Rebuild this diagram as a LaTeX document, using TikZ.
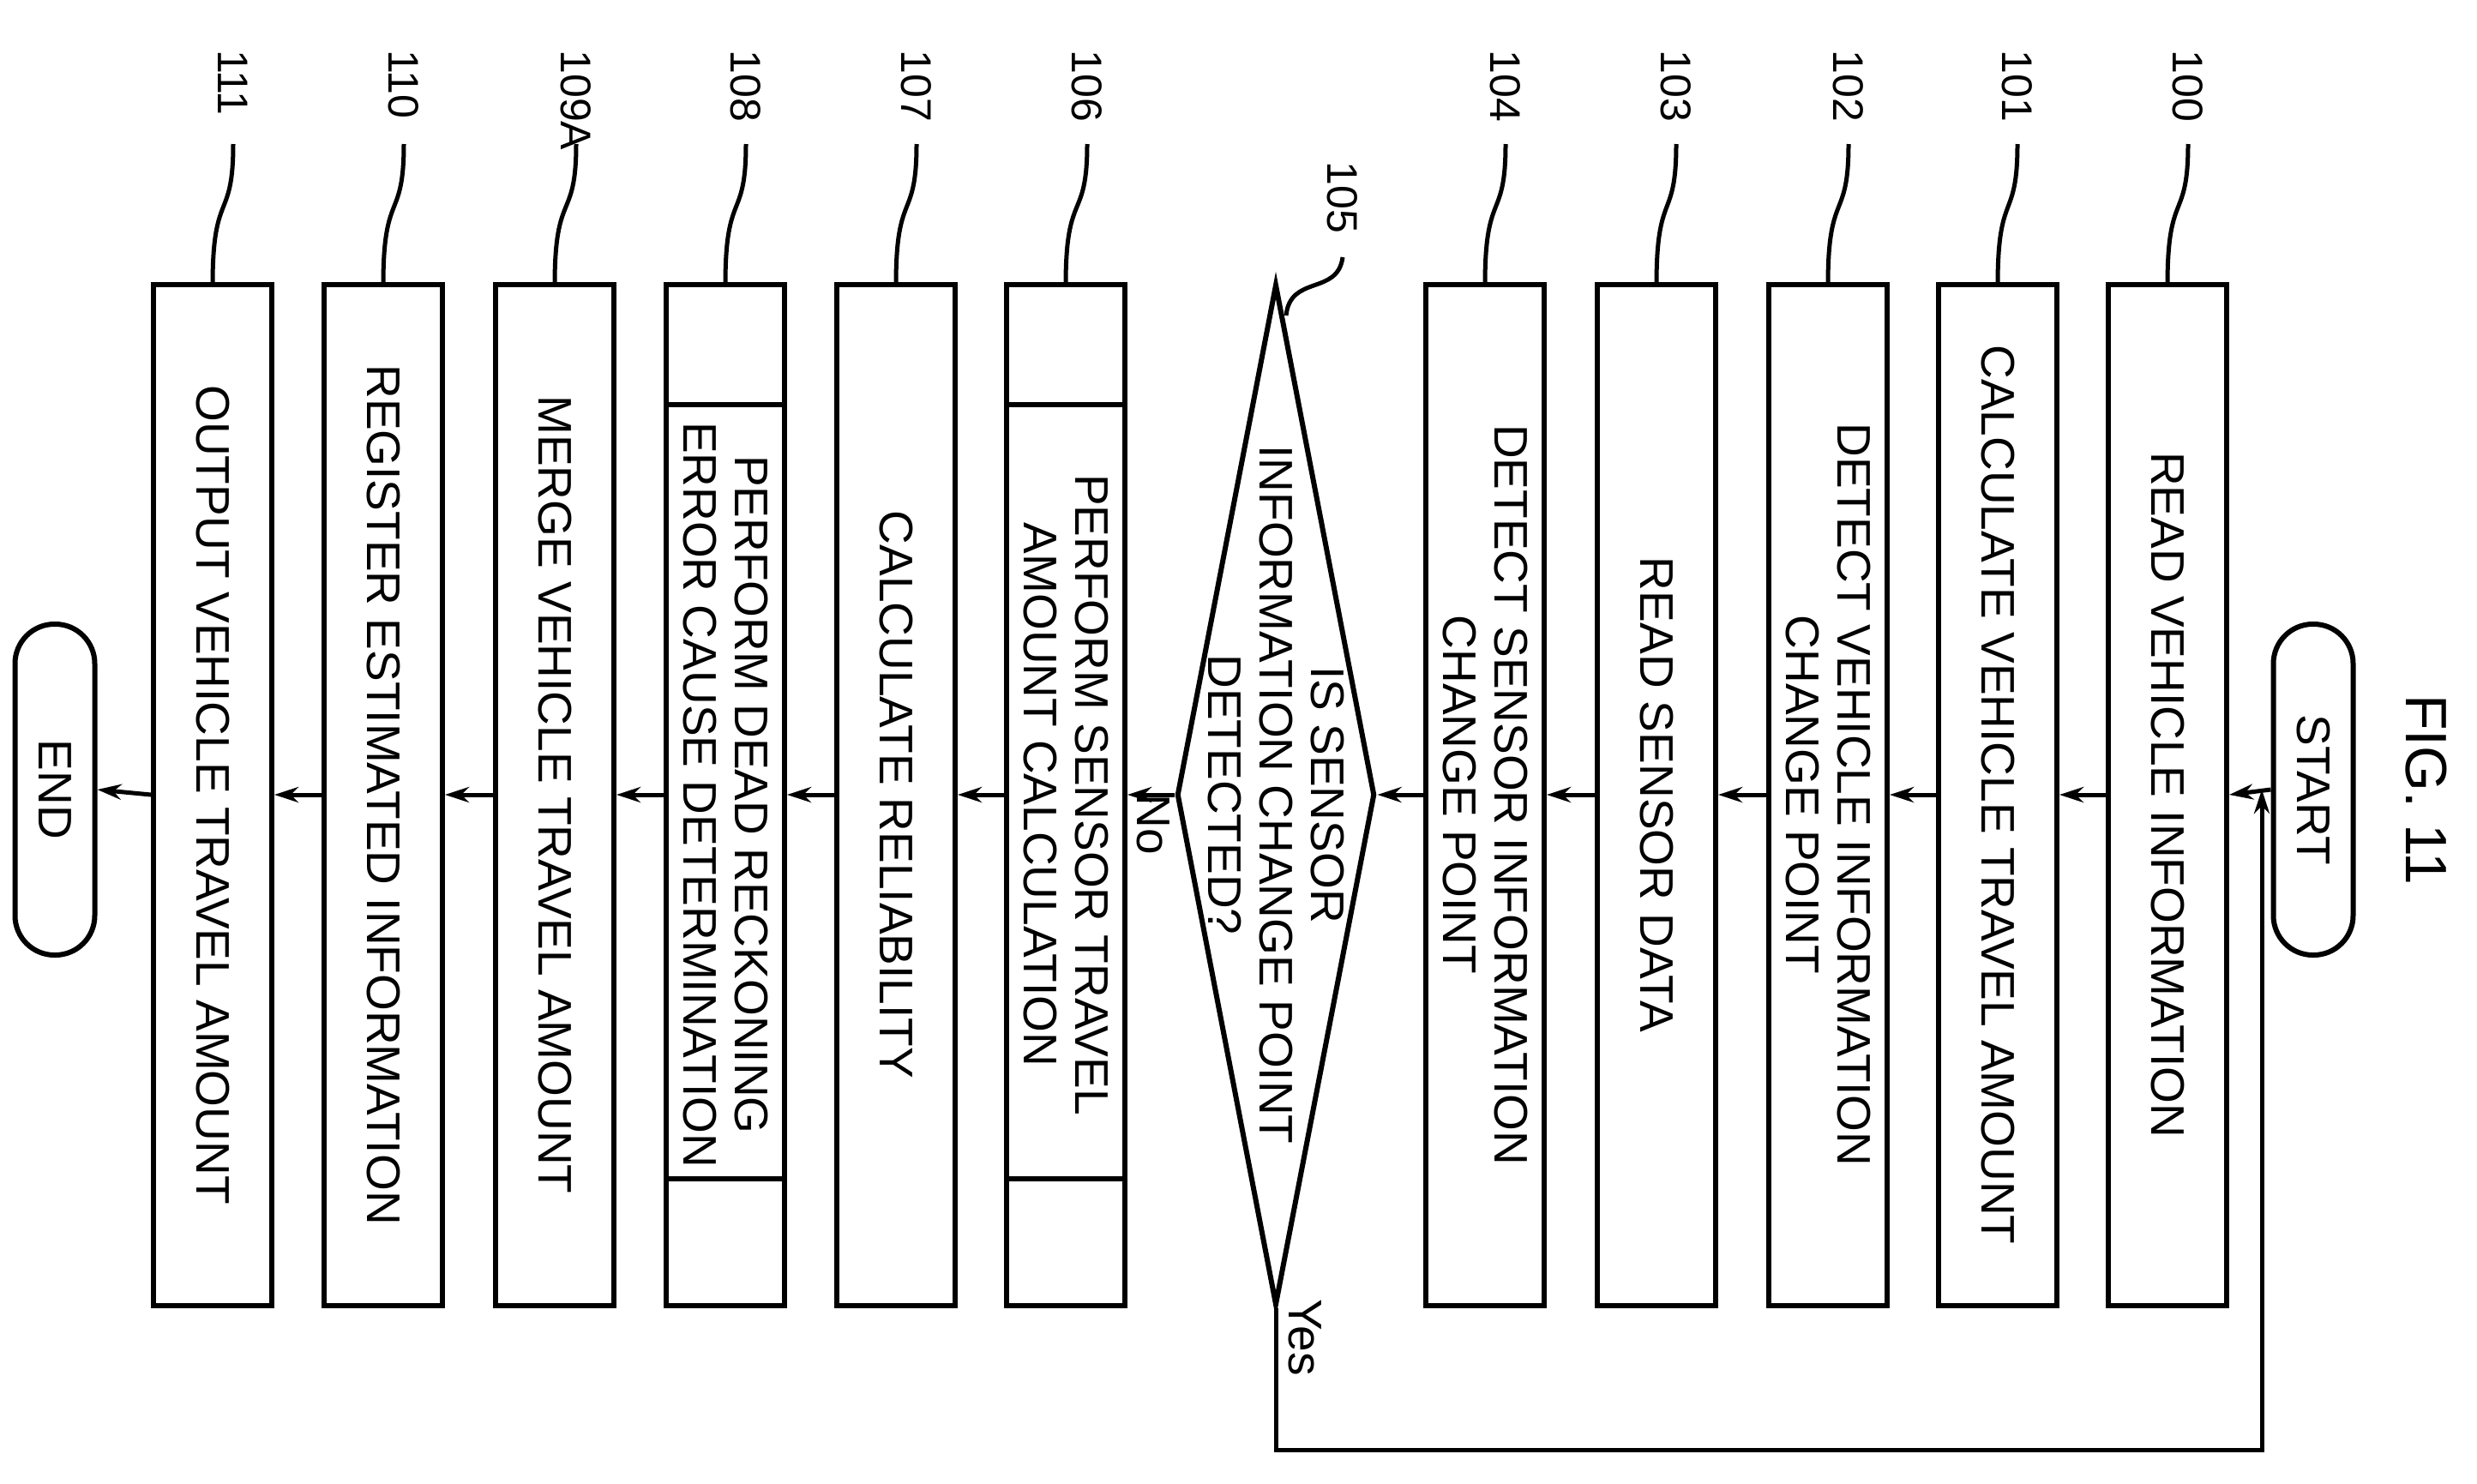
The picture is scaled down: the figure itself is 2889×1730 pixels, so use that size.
\documentclass[tikz,border=0pt]{standalone}
\usepackage{fontspec}
\setmainfont{Liberation Sans}
\usetikzlibrary{shapes.geometric,arrows.meta}
\begin{document}
\begin{tikzpicture}[x=1pt,y=1pt,
  every node/.style={font=\fontsize{55}{60}\selectfont},
  box/.style={draw,line width=6pt,rotate=-90,minimum width=1191pt,minimum height=138pt,inner sep=0pt,align=center},
  term/.style={draw,line width=6pt,rotate=-90,minimum width=386pt,minimum height=93pt,rounded corners=46pt,inner sep=0pt},
  conn/.style={line width=5pt,-{Stealth[length=28pt,width=18pt]}},
  lead/.style={line width=5pt},
  ref/.style={rotate=-90,anchor=west,font=\fontsize{50}{56}\selectfont}]
\useasboundingbox (0,0) rectangle (2889,-1730);
\node[term] (start) at (2698,-921) {START};
\node[term] (end) at (64,-921) {END};
\node[rotate=-90,font=\fontsize{68}{74}\selectfont] (fig) at (2830,-921) {FIG. 11};
\node[box] (b100) at (2528,-927) {READ VEHICLE INFORMATION};
\node[box] (b101) at (2330,-927) {CALCULATE VEHICLE TRAVEL AMOUNT};
\node[box] (b102) at (2132,-927) {DETECT VEHICLE INFORMATION\\CHANGE POINT};
\node[box] (b103) at (1932,-927) {READ SENSOR DATA};
\node[box] (b104) at (1732,-927) {DETECT SENSOR INFORMATION\\CHANGE POINT};
\node[diamond,draw,line width=6pt,rotate=-90,minimum width=1191pt,minimum height=231pt,aspect=5.16,inner sep=0pt] (d) at (1488,-927) {};
\node[rotate=-90,align=center] (dt) at (1488,-927) {IS SENSOR\\INFORMATION CHANGE POINT\\DETECTED?};
\node[box] (b106) at (1243,-927) {PERFORM SENSOR TRAVEL\\AMOUNT CALCULATION};
\node[box] (b107) at (1045,-927) {CALCULATE RELIABILITY};
\node[box] (b108) at (846,-927) {PERFORM DEAD RECKONING\\ERROR CAUSE DETERMINATION};
\node[box] (b109) at (647,-927) {MERGE VEHICLE TRAVEL AMOUNT};
\node[box] (b110) at (447,-927) {REGISTER ESTIMATED INFORMATION};
\node[box] (b111) at (248,-927) {OUTPUT VEHICLE TRAVEL AMOUNT};
% predefined process bars
\foreach \n in {b106,b108}{
  \draw[line width=6pt] ([yshift=-143pt]\n.north west) -- ([yshift=-143pt]\n.south west);
  \draw[line width=6pt] ([yshift=151pt]\n.north east) -- ([yshift=151pt]\n.south east);
}
% connectors
\draw[conn] (start.south) -- (b100.north);
\draw[conn] (b100.south) -- (b101.north);
\draw[conn] (b101.south) -- (b102.north);
\draw[conn] (b102.south) -- (b103.north);
\draw[conn] (b103.south) -- (b104.north);
\draw[conn] (b104.south) -- (d.north);
\draw[conn] (d.south) -- (b106.north);
\draw[conn] (b106.south) -- (b107.north);
\draw[conn] (b107.south) -- (b108.north);
\draw[conn] (b108.south) -- (b109.north);
\draw[conn] (b109.south) -- (b110.north);
\draw[conn] (b110.south) -- (b111.north);
\draw[conn] (b111.south) -- (end.north);
\coordinate (loopin) at (2638,-921);
\draw[conn] (d.east) -- (1488,-1691) -| (loopin);
\node[rotate=-90] (no) at (1345,-962) {No};
\node[rotate=-90] (yes) at (1522,-1560) {Yes};
% reference labels
\foreach \n/\l/\xr/\xc in {r100/100/2597/2528, r101/101/2398/2330, r102/102/2201/2132, r103/103/2000/1932, r104/104/1801/1732, r106/106/1313/1243, r107/107/1114/1045, r108/108/915/846, r109/109A/717/647, r110/110/516/447, r111/111/317/248}{
  \node[ref] (\n) at (\xr-45,-55) {\l};
  \draw[lead] (\xr-45,-\ifx\l109A 210\else 168\fi) .. controls (\xr-45,-260) and (\xc,-220) .. (\xc,-332);
}
\node[ref] (r105) at (1566,-185) {105};
\draw[lead] (1566,-300) .. controls (1560,-345) and (1505,-320) .. (1500,-368);
\end{tikzpicture}
\end{document}
